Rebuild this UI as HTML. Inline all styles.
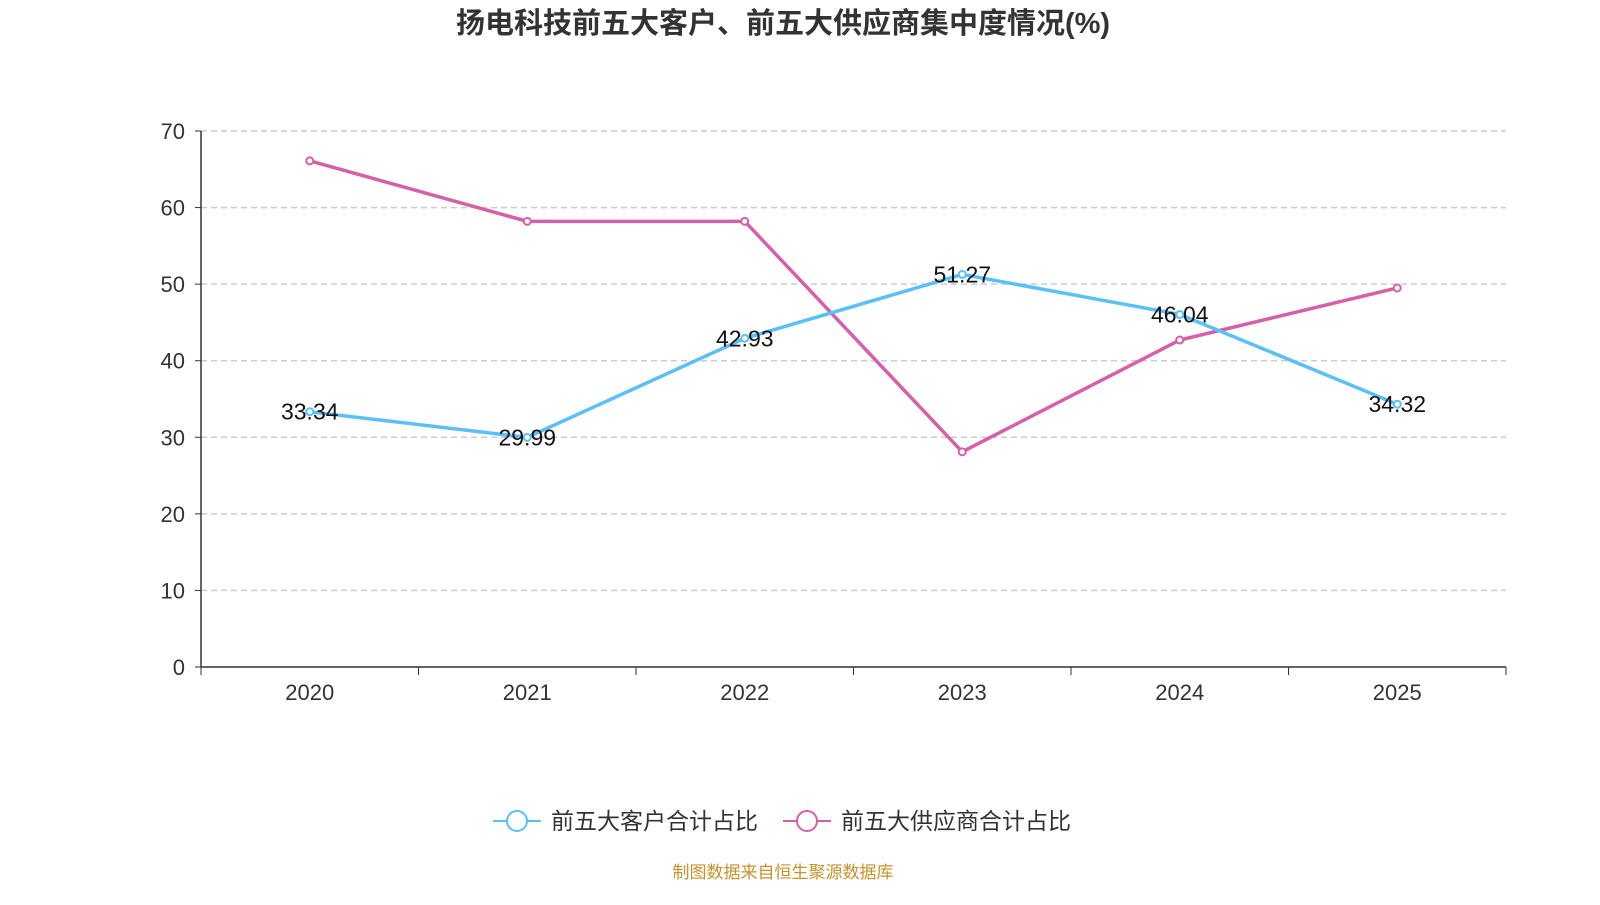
<!DOCTYPE html>
<html><head><meta charset="utf-8"><style>
body{margin:0;background:#fff;}
svg text{font-family:"Liberation Sans","Noto Sans CJK SC",sans-serif;}
</style></head><body>
<svg id="chart" width="1600" height="900" xmlns="http://www.w3.org/2000/svg">
<text x="783" y="33" text-anchor="middle" font-size="29" font-weight="bold" fill="#333">扬电科技前五大客户、前五大供应商集中度情况(%)</text>
<g id="grid"></g><g id="axes"></g><g id="series"></g>
<g>
<g>
<line x1="493" y1="821" x2="541" y2="821" stroke="#5bc0f8" stroke-width="2"/>
<circle cx="517" cy="821" r="10" fill="#fff" stroke="#5bc0f8" stroke-width="2"/>
<text x="551" y="829" font-size="23" fill="#333">前五大客户合计占比</text></g>
<g>
<line x1="783" y1="821" x2="831" y2="821" stroke="#d660a8" stroke-width="2"/>
<circle cx="807" cy="821" r="10" fill="#fff" stroke="#d660a8" stroke-width="2"/>
<text x="841" y="829" font-size="23" fill="#333">前五大供应商合计占比</text></g>
</g>
<text x="783" y="878" text-anchor="middle" font-size="17" fill="#c8922a">制图数据来自恒生聚源数据库</text>
</svg>
<script>
const categories=["2020","2021","2022","2023","2024","2025"];
const customers=[33.34,29.99,42.93,51.27,46.04,34.32];
const suppliers=[66.1,58.2,58.2,28.1,42.7,49.5];
const yTicks=[0,10,20,30,40,50,60,70];
const NS="http://www.w3.org/2000/svg";
const x0=201,x1=1506,y0=667,y1=131,ymax=70;
const band=(x1-x0)/categories.length;
const xs=i=>x0+band*(i+0.5);
const ys=v=>y0-(v/ymax)*(y0-y1);
function mk(tag,attrs,parent,txt){const e=document.createElementNS(NS,tag);for(const k in attrs)e.setAttribute(k,attrs[k]);if(txt!==undefined)e.textContent=txt;document.getElementById(parent).appendChild(e);return e;}
yTicks.forEach(t=>{
 if(t>0){const g=mk('line',{x1:x0,x2:x1,y1:ys(t),y2:ys(t),stroke:'#ccc','stroke-dasharray':'6,4','stroke-width':1.5},'grid');
 
 }
 const tk=mk('line',{x1:x0-6,x2:x0,y1:ys(t),y2:ys(t),stroke:'#333'},'axes');
 
 
 const l=mk('text',{x:x0-16,y:ys(t)+8,'text-anchor':'end','font-size':22,fill:'#333'},'axes',t);
 
 
});
const ya=mk('line',{x1:x0,x2:x0,y1:y1,y2:y0,stroke:'#333','stroke-width':1.5},'axes');


const xa=mk('line',{x1:x0,x2:x1,y1:y0,y2:y0,stroke:'#333','stroke-width':1.5},'axes');


for(let i=0;i<=categories.length;i++){const t=mk('line',{x1:x0+band*i,x2:x0+band*i,y1:y0,y2:y0+8,stroke:'#333'},'axes');
 
 }
categories.forEach((c,i)=>{const l=mk('text',{x:xs(i),y:y0+33,'text-anchor':'middle','font-size':22,fill:'#333'},'axes',c);
 
 });
function series(vals,color,name,labels){
 const p=mk('polyline',{points:vals.map((v,i)=>xs(i)+','+ys(v)).join(' '),fill:'none',stroke:color,'stroke-width':3.5},'series');
 
 
 vals.forEach((v,i)=>{const c=mk('circle',{cx:xs(i),cy:ys(v),r:3.5,fill:'#fff',stroke:color,'stroke-width':2},'series');
  
  
  if(labels){const t=mk('text',{x:xs(i),y:ys(v)+8,'text-anchor':'middle','font-size':23,fill:'#111'},'series',v.toFixed(2));
  
  }});
}
series(suppliers,'#d660a8','suppliers',false);
series(customers,'#5bc0f8','customers',true);
</script>
</body></html>
